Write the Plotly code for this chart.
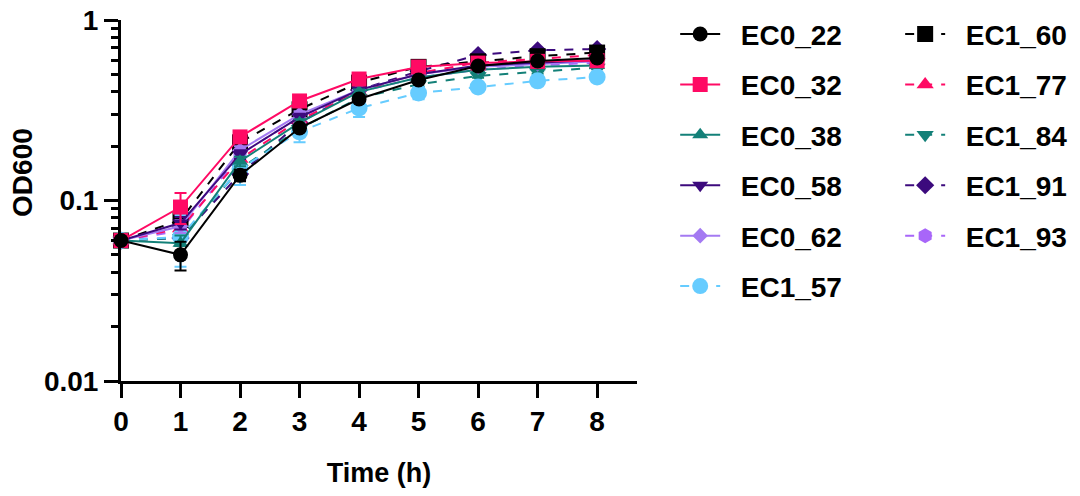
import plotly.graph_objects as go

time_h = [0, 1, 2, 3, 4, 5, 6, 7, 8]

names = ["EC0_22", "EC0_32", "EC0_38", "EC0_58", "EC0_62", "EC1_57",
         "EC1_60", "EC1_77", "EC1_84", "EC1_91", "EC1_93"]

ec0_22 = [0.060, 0.050, 0.138, 0.252, 0.365, 0.465, 0.556, 0.593, 0.616]
ec0_32 = [0.060, 0.092, 0.225, 0.356, 0.471, 0.549, 0.577, 0.590, 0.595]
ec0_38 = [0.060, 0.058, 0.165, 0.270, 0.400, 0.480, 0.530, 0.550, 0.560]
ec0_58 = [0.060, 0.075, 0.180, 0.290, 0.410, 0.500, 0.560, 0.580, 0.600]
ec0_62 = [0.060, 0.072, 0.190, 0.300, 0.410, 0.500, 0.550, 0.570, 0.590]
ec1_57 = [0.060, 0.063, 0.150, 0.240, 0.325, 0.394, 0.425, 0.460, 0.483]
ec1_60 = [0.060, 0.078, 0.210, 0.320, 0.450, 0.550, 0.590, 0.630, 0.660]
ec1_77 = [0.060, 0.070, 0.170, 0.280, 0.400, 0.510, 0.580, 0.610, 0.640]
ec1_84 = [0.060, 0.062, 0.150, 0.250, 0.370, 0.440, 0.490, 0.515, 0.545]
ec1_91 = [0.060, 0.062, 0.140, 0.270, 0.410, 0.520, 0.640, 0.680, 0.690]
ec1_93 = [0.060, 0.068, 0.180, 0.290, 0.400, 0.480, 0.530, 0.560, 0.580]

err_ec0_22 = [0.002, 0.009, 0.010, 0.010, 0.010, 0.010, 0.010, 0.010, 0.010]
err_ec0_32 = [0.002, 0.018, 0.010, 0.015, 0.015, 0.010, 0.010, 0.010, 0.010]
err_ec1_57 = [0.002, 0.020, 0.028, 0.030, 0.035, 0.030, 0.020, 0.020, 0.020]
err_small = [0.002, 0.006, 0.010, 0.012, 0.012, 0.012, 0.012, 0.012, 0.012]

values = [ec0_22, ec0_32, ec0_38, ec0_58, ec0_62, ec1_57,
          ec1_60, ec1_77, ec1_84, ec1_91, ec1_93]
errors = [err_ec0_22, err_ec0_32, err_small, err_small, err_small, err_ec1_57,
          err_small, err_small, err_small, err_small, err_small]

colors = ["#000000", "#FF0A64", "#138078", "#3C0A7D", "#A47AF2", "#66CCFF",
          "#000000", "#FF0A64", "#138078", "#3C0A7D", "#A866F9"]
symbols = ["circle", "square", "triangle-up", "triangle-down", "diamond", "circle",
           "square", "triangle-up", "triangle-down", "diamond", "hexagon"]
sizes = [15, 15, 14, 14, 12, 17, 16, 15, 15, 14, 15]
dashes = ["solid"] * 5 + ["dash"] * 6
legends = ["legend"] * 6 + ["legend2"] * 5

FONT = "Liberation Sans, Arial, Helvetica, sans-serif"
NB = "\u00a0\u00a0"

fig = go.Figure()
order = list(range(len(names)))
for i in order[::-1]:
    fig.add_trace(go.Scatter(
        x=time_h, y=values[i], name=NB + names[i],
        mode="lines+markers",
        line=dict(color=colors[i], width=2, dash=dashes[i]),
        marker=dict(color=colors[i], symbol=symbols[i], size=sizes[i]),
        error_y=dict(type="data", array=errors[i], color=colors[i],
                     thickness=2, width=6),
        cliponaxis=False,
        legend=legends[i], legendgroup=names[i], legendrank=i,
    ))

leg_font = dict(family=FONT, size=28, color="black", weight="bold")
fig.update_layout(
    width=1080, height=496,
    margin=dict(l=121, r=443, t=20, b=115, autoexpand=False),
    paper_bgcolor="white", plot_bgcolor="white",
    font=dict(family=FONT, size=27, color="black", weight="bold"),
    showlegend=True,
    legend=dict(x=1.074, y=1.0295, xanchor="left", yanchor="top",
                tracegroupgap=11, itemwidth=40, maxheight=470,
                font=leg_font, bgcolor="rgba(0,0,0,0)"),
    legend2=dict(x=1.51, y=1.0295, xanchor="left", yanchor="top",
                 tracegroupgap=11, itemwidth=40, maxheight=470,
                 font=leg_font, bgcolor="rgba(0,0,0,0)"),
)

fig.update_xaxes(
    range=[0, 8.67], tickmode="array", tickvals=time_h,
    ticks="outside", ticklen=14, tickwidth=3, tickcolor="black",
    showline=True, linewidth=3, linecolor="black",
    showgrid=False, zeroline=False, ticklabelstandoff=-1,
    ticklabeloverflow="allow",
    tickfont=dict(family=FONT, size=28, color="black", weight="bold"),
    title=dict(text="Time (h)", standoff=28,
               font=dict(family=FONT, size=27, color="black", weight="bold")),
)

minor_vals = [k * 0.01 for k in range(2, 10)] + [k * 0.1 for k in range(2, 10)]
fig.update_yaxes(
    type="log", range=[-2, 0],
    tickmode="array", tickvals=[0.01, 0.1, 1], ticktext=["0.01", "0.1", "1"],
    ticks="outside", ticklen=14, tickwidth=3, tickcolor="black",
    showline=True, linewidth=3, linecolor="black",
    showgrid=False, zeroline=False, ticklabeloverflow="allow",
    tickfont=dict(family=FONT, size=28, color="black", weight="bold"),
    minor=dict(tickmode="array", tickvals=minor_vals, ticks="outside",
               ticklen=7, tickwidth=3, tickcolor="black", showgrid=False),
)

fig.add_annotation(
    text="OD600", xref="paper", yref="paper",
    x=-0.19, y=0.579, xanchor="center", yanchor="middle",
    textangle=-90, showarrow=False,
    font=dict(family=FONT, size=28, color="black", weight="bold"),
)

fig.write_html("out.html",
               config={"displayModeBar": False},
               post_script="document.body.style.margin='0';"
                           "document.body.style.overflow='hidden';")
